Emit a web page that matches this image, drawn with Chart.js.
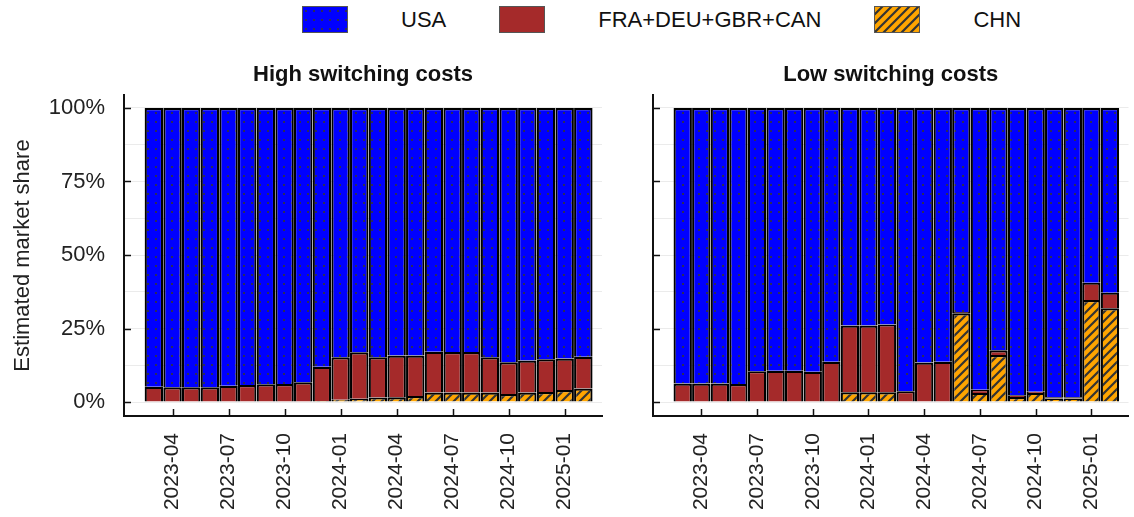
<!DOCTYPE html>
<html>
<head>
<meta charset="utf-8">
<script src="https://cdn.jsdelivr.net/npm/chart.js@4.4.1/dist/chart.umd.min.js"></script>
<style>
  body { margin: 0; background: #fff; width: 1134px; height: 517px; position: relative; overflow: hidden; font-family: "Liberation Sans", Arial, sans-serif; }
  #legend { position: absolute; left: 302px; top: 6px; display: flex; align-items: center; gap: 53px; font-size: 22px; color: #111; }
  #legend canvas { display: block; }
  canvas.panel { position: absolute; top: 0; }
</style>
</head>
<body>
<div id="legend">
  <canvas id="swUSA" width="46" height="27"></canvas><span>USA</span>
  <canvas id="swEU" width="46" height="27"></canvas><span>FRA+DEU+GBR+CAN</span>
  <canvas id="swCHN" width="46" height="27"></canvas><span>CHN</span>
</div>
<canvas class="panel" id="left" width="615" height="517" style="left:0"></canvas>
<canvas class="panel" id="right" width="519" height="517" style="left:615px"></canvas>
<script>
const months = ['2023-03','2023-04','2023-05','2023-06','2023-07','2023-08','2023-09','2023-10',
  '2023-11','2023-12','2024-01','2024-02','2024-03','2024-04','2024-05','2024-06',
  '2024-07','2024-08','2024-09','2024-10','2024-11','2024-12','2025-01','2025-02'];
const tickIdx = [1, 4, 7, 10, 13, 16, 19, 22];
const yMajor = [0, 25, 50, 75, 100];

// high switching costs
const chnHigh = [0,0,0,0,0,0,0,0,0,0.3,0.8,1.1,1.5,1.6,2.0,3.2,3.2,3.2,3.2,2.7,3.2,3.4,4.1,4.6];
const eurHigh = [5.2,5.0,5.0,5.0,5.5,5.8,6.0,6.1,6.7,11.7,14.4,15.8,13.7,14.2,13.8,13.9,13.8,13.8,12.0,10.8,10.9,11.1,10.7,10.8];
const usaHigh = [94.8,95.0,95.0,95.0,94.5,94.2,94.0,93.9,93.3,88.0,84.8,83.1,84.8,84.2,84.2,82.9,83.0,83.0,84.8,86.5,85.9,85.5,85.2,84.6];

// low switching costs
const chnLow = [0,0,0,0,0,0,0,0,0,3.3,3.3,3.3,0,0,0,30.2,3.1,16.0,1.7,3.1,1.2,1.2,34.7,31.9];
const eurLow = [6.3,6.3,6.3,6.1,10.5,10.6,10.6,10.3,13.7,22.7,22.7,23.1,3.7,13.4,13.7,0.4,1.1,1.6,0.6,0.4,0.4,0.4,5.9,5.3];
const usaLow = [93.7,93.7,93.7,93.9,89.5,89.4,89.4,89.7,86.3,74.0,74.0,73.6,96.3,86.6,86.3,69.4,95.8,82.4,97.7,96.5,98.4,98.4,59.4,62.8];

Chart.defaults.font.family = '"Liberation Sans", Arial, sans-serif';
Chart.defaults.color = '#222';

function dots() {
  const c = document.createElement('canvas'); c.width = 8; c.height = 9;
  const g = c.getContext('2d');
  g.fillStyle = '#0000ff'; g.fillRect(0, 0, 8, 9);
  g.fillStyle = '#2c2c5a'; g.fillRect(3, 4, 2, 2);
  return g.createPattern(c, 'repeat');
}
function hatch() {
  const c = document.createElement('canvas'); c.width = 9; c.height = 9;
  const g = c.getContext('2d');
  g.fillStyle = '#ffa500'; g.fillRect(0, 0, 9, 9);
  g.strokeStyle = '#333'; g.lineWidth = 2.2;
  g.beginPath();
  g.moveTo(0, 9); g.lineTo(9, 0);
  g.moveTo(-2, 2); g.lineTo(2, -2);
  g.moveTo(7, 11); g.lineTo(11, 7);
  g.stroke();
  return g.createPattern(c, 'repeat');
}
const usaFill = dots(), eurFill = '#a52a2a', chnFill = hatch();

[['swUSA', usaFill], ['swEU', eurFill], ['swCHN', chnFill]].forEach(([id, f]) => {
  const g = document.getElementById(id).getContext('2d');
  g.fillStyle = f; g.fillRect(0, 0, 46, 27);
  g.strokeStyle = '#555'; g.lineWidth = 1; g.strokeRect(0.5, 0.5, 45, 26);
});

const tickMarks = {
  id: 'tickMarks',
  afterDatasetsDraw(chart) {
    const {ctx, chartArea: a, scales: {x, y}} = chart;
    ctx.save();
    ctx.strokeStyle = '#111'; ctx.lineWidth = 1.5;
    ctx.beginPath();
    yMajor.forEach(v => { const py = Math.round(y.getPixelForValue(v)) + 0.5; ctx.moveTo(a.left, py); ctx.lineTo(a.left + 7, py); });
    tickIdx.forEach(i => { const px = Math.round(x.getPixelForValue(i)) + 0.5; ctx.moveTo(px, a.bottom); ctx.lineTo(px, a.bottom - 7); });
    ctx.stroke();
    ctx.restore();
  }
};

const xy = arr => arr.map((v, i) => ({x: i, y: v}));

function panel(id, title, chn, eur, usa, showY, yWidth, padRight) {
  const ds = (label, data, fill) => ({
    label, data: xy(data), backgroundColor: fill, borderColor: '#000', borderWidth: 2.2,
    categoryPercentage: 1, barPercentage: 0.99
  });
  return new Chart(document.getElementById(id), {
    type: 'bar',
    data: { datasets: [ds('CHN', chn, chnFill), ds('FRA+DEU+GBR+CAN', eur, eurFill), ds('USA', usa, usaFill)] },
    options: {
      responsive: false, animation: false,
      layout: { padding: { top: 0, right: padRight, left: 0, bottom: 0 } },
      plugins: {
        legend: { display: false }, tooltip: { enabled: false },
        title: { display: true, text: title, fullSize: false, color: '#111',
          font: { size: 22, weight: 'bold' }, padding: { top: 61.8, bottom: 6.8 } }
      },
      scales: {
        x: {
          type: 'linear', stacked: true, offset: false, min: -1.6, max: 24,
          grid: { display: false, drawTicks: false, offset: false },
          border: { display: true, color: '#111', width: 2 },
          afterBuildTicks: s => { s.ticks = tickIdx.map(v => ({value: v})); },
          ticks: { autoSkip: false, minRotation: 90, maxRotation: 90, padding: 17,
            font: { size: 21 }, callback: v => months[v] },
          afterFit: s => { s.height = 101; }
        },
        y: {
          stacked: true, min: -4.76, max: 104.42,
          grid: { color: '#ebebeb', drawTicks: false },
          border: { display: true, color: '#111', width: 2 },
          afterBuildTicks: s => { s.ticks = [0,12.5,25,37.5,50,62.5,75,87.5,100].map(v => ({value: v})); },
          ticks: { display: showY, padding: 19, font: { size: 22 },
            callback: v => v % 25 === 0 ? v + '%' : '' },
          title: { display: showY, text: 'Estimated market share', font: { size: 22 }, padding: { top: 10 } },
          afterFit: s => { s.width = yWidth; }
        }
      }
    },
    plugins: [tickMarks]
  });
}

panel('left', 'High switching costs', chnHigh, eurHigh, usaHigh, true, 124, 13);
panel('right', 'Low switching costs', chnLow, eurLow, usaLow, false, 38, 3);
</script>
</body>
</html>
